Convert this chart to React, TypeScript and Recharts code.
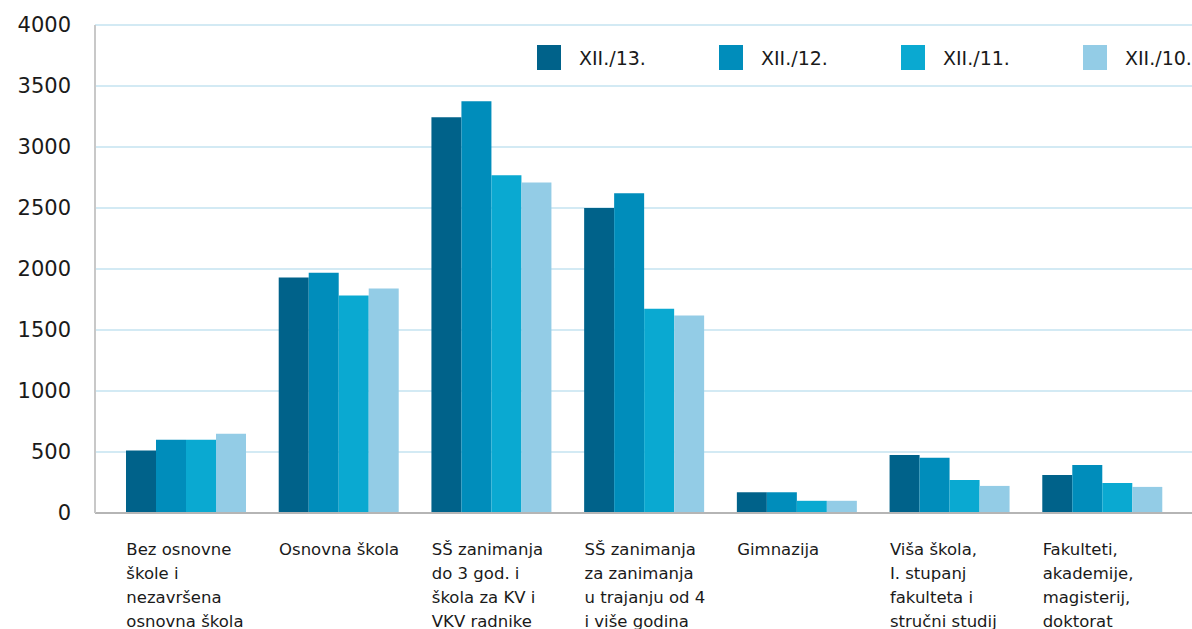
import { BarChart, Bar, XAxis, YAxis, CartesianGrid, Legend } from 'recharts';

const categories = [
  'Bez osnovne\nškole i\nnezavršena\nosnovna škola',
  'Osnovna škola',
  'SŠ zanimanja\ndo 3 god. i\nškola za KV i\nVKV radnike',
  'SŠ zanimanja\nza zanimanja\nu trajanju od 4\ni više godina',
  'Gimnazija',
  'Viša škola,\nI. stupanj\nfakulteta i\nstručni studij',
  'Fakulteti,\nakademije,\nmagisterij,\ndoktorat',
];

const dec13 = [512, 1930, 3244, 2499, 170, 476, 312];
const dec12 = [600, 1970, 3376, 2620, 170, 452, 394];
const dec11 = [600, 1782, 2768, 1675, 100, 271, 246];
const dec10 = [649, 1840, 2710, 1618, 100, 222, 214];

const seriesNames = ['XII./13.', 'XII./12.', 'XII./11.', 'XII./10.'];
const COLORS = ['#00628a', '#008dbb', '#0aa9d1', '#93cce6'];
const yTicks = [0, 500, 1000, 1500, 2000, 2500, 3000, 3500, 4000];

const data = categories.map((name, i) => ({
  name,
  s0: dec13[i],
  s1: dec12[i],
  s2: dec11[i],
  s3: dec10[i],
}));

const FONT = '"DejaVu Sans", sans-serif';

function CategoryTick({ x, y, payload }: any) {
  const lines = String(payload.value).split('\n');
  return (
    <text x={x - 60} y={y + 34} fill="#1a1a1a" fontSize={16.5} fontFamily={FONT}>
      {lines.map((line, i) => (
        <tspan key={i} x={x - 60} dy={i === 0 ? 0 : 24.1}>
          {line}
        </tspan>
      ))}
    </text>
  );
}

function LegendContent() {
  return (
    <div style={{ display: 'flex', fontFamily: FONT, fontSize: 19, color: '#1a1a1a' }}>
      {seriesNames.map((name, i) => (
        <div key={name} style={{ width: 182, display: 'flex', alignItems: 'center', flexShrink: 0 }}>
          <span style={{ width: 24, height: 25, background: COLORS[i], display: 'inline-block', marginRight: 18 }} />
          <span style={{ whiteSpace: 'nowrap' }}>{name}</span>
        </div>
      ))}
    </div>
  );
}

export default function App() {
  return (
    <div style={{ position: 'absolute', left: 0, top: 0, width: 1192, height: 629, overflow: 'hidden', background: '#fff' }}>
      <BarChart
        width={1194}
        height={629}
        data={data}
        margin={{ top: 25, right: 0, bottom: 0, left: 0 }}
        barGap={0}
      >
        <CartesianGrid vertical={false} stroke="#c5e3f1" strokeWidth={1.5} />
        <XAxis
          dataKey="name"
          height={116}
          interval={0}
          padding={{ left: 15, right: 15 }}
          tickLine={false}
          axisLine={{ stroke: '#b5b5b5', strokeWidth: 2 }}
          tick={<CategoryTick />}
        />
        <YAxis
          width={95}
          domain={[0, 4000]}
          ticks={yTicks}
          tickLine={false}
          axisLine={{ stroke: '#c8c8c8', strokeWidth: 2 }}
          tickMargin={18}
          tick={{ fill: '#1a1a1a', fontSize: 21, fontFamily: FONT }}
        />
        <Legend
          verticalAlign="middle"
          align="center"
          layout="horizontal"
          content={<LegendContent />}
          wrapperStyle={{ top: 45, left: 537, width: 800 }}
        />
        {['s0', 's1', 's2', 's3'].map((key, i) => (
          <Bar key={key} dataKey={key} name={seriesNames[i]} fill={COLORS[i]} barSize={30} isAnimationActive={false} />
        ))}
      </BarChart>
    </div>
  );
}
